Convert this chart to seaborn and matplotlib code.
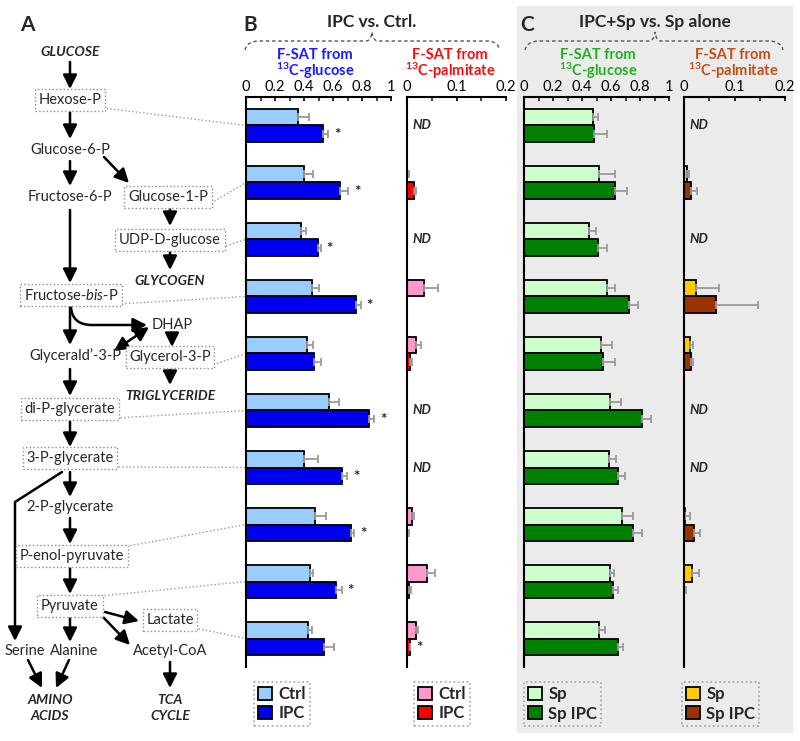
import numpy as np
import pandas as pd
import matplotlib
matplotlib.use("Agg")
import matplotlib.pyplot as plt
import seaborn as sns
from matplotlib.patches import Rectangle, FancyArrowPatch, Patch, PathPatch, ArrowStyle
from matplotlib.path import Path

sns.set_style("white")
plt.rcParams['font.family'] = ['Lato', 'DejaVu Sans']
plt.rcParams['mathtext.fontset'] = 'custom'
plt.rcParams['mathtext.rm'] = 'Lato'
plt.rcParams['mathtext.it'] = 'Lato:italic'
plt.rcParams['mathtext.bf'] = 'Lato:bold'

# ---------------- data ----------------
metabolites = ["Hexose-P", "Glucose-1-P", "UDP-D-glucose", "Fructose-bis-P", "Glycerol-3-P",
               "di-P-glycerate", "3-P-glycerate", "P-enol-pyruvate", "Pyruvate", "Lactate"]

# Panel B: IPC vs Ctrl, F-SAT from 13C-glucose
b_glc_ctrl = [0.356, 0.400, 0.377, 0.455, 0.418, 0.570, 0.400, 0.478, 0.439, 0.425]
b_glc_ctrl_err = [0.076, 0.064, 0.037, 0.050, 0.046, 0.074, 0.099, 0.074, 0.021, 0.028]
b_glc_ipc = [0.533, 0.648, 0.497, 0.759, 0.471, 0.848, 0.664, 0.724, 0.618, 0.540]
b_glc_ipc_err = [0.034, 0.058, 0.018, 0.032, 0.044, 0.037, 0.035, 0.023, 0.044, 0.065]
b_glc_star = [1, 1, 1, 1, 0, 1, 1, 1, 1, 0]

# Panel B: F-SAT from 13C-palmitate (None = ND)
b_pal_ctrl = [None, 0.001, None, 0.035, 0.019, None, None, 0.010, 0.040, 0.019]
b_pal_ctrl_err = [None, 0.003, None, 0.027, 0.009, None, None, 0.005, 0.017, 0.003]
b_pal_ipc = [None, 0.015, None, 0.0, 0.007, None, None, 0.001, 0.004, 0.006]
b_pal_ipc_err = [None, 0.003, None, 0.0, 0.004, None, None, 0.004, 0.004, 0.001]
b_pal_star = [0, 0, 0, 0, 0, 0, 0, 0, 0, 1]

# Panel C: IPC+Sp vs Sp alone, F-SAT from 13C-glucose
c_glc_sp = [0.479, 0.520, 0.445, 0.569, 0.534, 0.596, 0.589, 0.674, 0.596, 0.520]
c_glc_sp_err = [0.028, 0.110, 0.053, 0.060, 0.071, 0.072, 0.048, 0.076, 0.025, 0.039]
c_glc_ipc = [0.484, 0.629, 0.507, 0.727, 0.544, 0.812, 0.651, 0.750, 0.612, 0.645]
c_glc_ipc_err = [0.085, 0.084, 0.066, 0.062, 0.085, 0.062, 0.046, 0.064, 0.033, 0.039]
c_glc_star = [0] * 10

# Panel C: F-SAT from 13C-palmitate
c_pal_sp = [None, 0.005, None, 0.024, 0.011, None, None, 0.001, 0.016, 0.0]
c_pal_sp_err = [None, 0.004, None, 0.045, 0.007, None, None, 0.011, 0.013, 0.0]
c_pal_ipc = [None, 0.013, None, 0.064, 0.014, None, None, 0.020, 0.0, 0.0]
c_pal_ipc_err = [None, 0.013, None, 0.083, 0.004, None, None, 0.011, 0.003, 0.0]
c_pal_star = [0] * 10

W, H = 800, 741
fig = plt.figure(figsize=(8, 7.41), dpi=100)

# overlay axes in pixel coordinates (pathway diagram, titles)
ax0 = fig.add_axes([0, 0, 1, 1])
ax0.set_xlim(0, W)
ax0.set_ylim(H, 0)
ax0.axis('off')
ax0.patch.set_alpha(0)

# grey background of panel C
ax0.add_patch(Rectangle((517, 6), 276, 727, facecolor='#ebebeb', edgecolor='none', zorder=0))

def axes_px(left, right, top=97, bottom=667):
    return fig.add_axes([left / W, 1 - bottom / H, (right - left) / W, (bottom - top) / H])

axBg = axes_px(246, 391)
axBp = axes_px(407, 506)
axCg = axes_px(524, 669)
axCp = axes_px(684, 785)

ERR_COLOR = '#9a9a9a'

def panel(ax, v1, e1, v2, e2, labels, colors, xmax, major, minor, stars, legend_xy):
    nd = [a is None for a in v1]
    val1 = [0.0 if a is None else a for a in v1]
    val2 = [0.0 if a is None else a for a in v2]
    err1 = [0.0 if a is None else a for a in e1]
    err2 = [0.0 if a is None else a for a in e2]
    df = pd.DataFrame({
        'metabolite': metabolites * 2,
        'group': [labels[0]] * len(metabolites) + [labels[1]] * len(metabolites),
        'value': val1 + val2,
    })
    sns.barplot(data=df, y='metabolite', x='value', hue='group', order=metabolites,
                hue_order=labels, palette=colors, orient='h', width=0.58,
                edgecolor='black', linewidth=1.3, errorbar=None, saturation=1,
                legend=False, ax=ax)
    vals = [val1, val2]
    errs = [err1, err2]
    for bar in ax.patches:
        yc = bar.get_y() + bar.get_height() / 2
        i = int(round(yc))
        if i < 0 or i >= len(metabolites):
            continue
        k = 0 if yc < i else 1
        if nd[i]:
            continue
        v, e = vals[k][i], errs[k][i]
        if e > 0:
            ax.errorbar(v, yc, xerr=[[0], [e]], fmt='none', ecolor=ERR_COLOR,
                        elinewidth=1.3, capsize=3, capthick=1.3, zorder=1)
        if k == 1 and stars[i]:
            ax.annotate('*', xy=(v + e, yc), xytext=(4, -1), textcoords='offset points',
                        ha='left', va='center', fontsize=11, fontweight='bold')
    for i, flag in enumerate(nd):
        if flag:
            ax.annotate('ND', xy=(0, i), xytext=(4, 0), textcoords='offset points',
                        ha='left', va='center', fontsize=9.5, fontweight='bold',
                        fontstyle='italic')
    ax.set_xlim(0, xmax)
    ax.set_ylim(len(metabolites) - 0.5, -0.5)
    ax.set_yticks([])
    ax.set_xlabel('')
    ax.set_ylabel('')
    ax.xaxis.tick_top()
    ax.set_xticks(major)
    ax.set_xticklabels([f"{t:g}" for t in major])
    ax.set_xticks(minor, minor=True)
    ax.tick_params(axis='x', which='major', direction='in', length=3, width=1.2,
                   pad=2, labelsize=10.5, colors='black')
    ax.tick_params(axis='x', which='minor', direction='in', length=3, width=1.2)
    for s in ['right', 'bottom']:
        ax.spines[s].set_visible(False)
    for s in ['top', 'left']:
        ax.spines[s].set_linewidth(1.5)
        ax.spines[s].set_color('black')
    ax.patch.set_alpha(0)
    handles = [Patch(facecolor=colors[0], edgecolor='black', linewidth=1.3, label=labels[0]),
               Patch(facecolor=colors[1], edgecolor='black', linewidth=1.3, label=labels[1])]
    leg = ax.legend(handles=handles, loc='upper left',
                    bbox_to_anchor=(legend_xy[0] / W, 1 - legend_xy[1] / H),
                    bbox_transform=fig.transFigure, frameon=True, fancybox=False,
                    prop={'weight': 'bold', 'size': 12}, handlelength=0.85,
                    handleheight=0.85, handletextpad=0.35, borderpad=0.25,
                    labelspacing=0.2, borderaxespad=0)
    fr = leg.get_frame()
    fr.set_edgecolor('#8c8c8c')
    fr.set_linestyle(':')
    fr.set_linewidth(1.2)
    fr.set_facecolor('none')

panel(axBg, b_glc_ctrl, b_glc_ctrl_err, b_glc_ipc, b_glc_ipc_err, ['Ctrl', 'IPC'],
      ['#99ccff', '#0000f0'], 1.0, [0, 0.2, 0.4, 0.6, 0.8, 1.0],
      [0.1, 0.3, 0.5, 0.7, 0.9], b_glc_star, (254, 682))
panel(axBp, b_pal_ctrl, b_pal_ctrl_err, b_pal_ipc, b_pal_ipc_err, ['Ctrl', 'IPC'],
      ['#ff99cc', '#ff0000'], 0.2, [0, 0.1, 0.2], [0.05, 0.15], b_pal_star, (414, 682))
panel(axCg, c_glc_sp, c_glc_sp_err, c_glc_ipc, c_glc_ipc_err, ['Sp', 'Sp IPC'],
      ['#ccffcc', '#008000'], 1.0, [0, 0.2, 0.4, 0.6, 0.8, 1.0],
      [0.1, 0.3, 0.5, 0.7, 0.9], c_glc_star, (524, 682))
panel(axCp, c_pal_sp, c_pal_sp_err, c_pal_ipc, c_pal_ipc_err, ['Sp', 'Sp IPC'],
      ['#ffcc00', '#993300'], 0.2, [0, 0.1, 0.2], [0.05, 0.15], c_pal_star, (682, 682))

# ---------------- titles ----------------
def T(x, y, s, **kw):
    kw.setdefault('ha', 'center')
    kw.setdefault('va', 'center')
    kw.setdefault('fontsize', 10)
    return ax0.text(x, y, s, **kw)

T(27, 25, 'A', fontsize=15, fontweight='bold')
T(250, 25, 'B', fontsize=15, fontweight='bold')
T(527, 25, 'C', fontsize=15, fontweight='bold')
T(372, 22, 'IPC vs. Ctrl.', fontsize=12.5, fontweight='bold')
T(655, 22, 'IPC+Sp vs. Sp alone', fontsize=12.5, fontweight='bold')

def sub(x, color, kind):
    T(x, 55, 'F-SAT from', fontsize=10.5, fontweight='bold', color=color)
    T(x, 71, r'$\mathbf{^{13}}$C-' + kind, fontsize=10.5, fontweight='bold', color=color)

sub(315, '#1a1aff', 'glucose')
sub(450, '#ee1111', 'palmitate')
sub(598, '#22b022', 'glucose')
sub(733, '#c0501a', 'palmitate')

def brace(x0, x1, xm):
    verts = [(x0, 50), (x0 + 2, 41), (x0 + 14, 41), (xm - 6, 41), (xm - 1, 41), (xm, 32),
             (xm + 1, 41), (xm + 6, 41), (x1 - 14, 41), (x1 - 2, 41), (x1, 50)]
    codes = [Path.MOVETO, Path.CURVE3, Path.CURVE3, Path.LINETO, Path.CURVE3, Path.CURVE3,
             Path.CURVE3, Path.CURVE3, Path.LINETO, Path.CURVE3, Path.CURVE3]
    ax0.add_patch(PathPatch(Path(verts, codes), fill=False, edgecolor='#555555', lw=1.0,
                            linestyle=(0, (2.5, 2))))

brace(245, 500, 372)
brace(525, 783, 655)

# ---------------- panel A: pathway ----------------
BOX = dict(boxstyle='square,pad=0.25', facecolor='white', edgecolor='#8c8c8c',
           linestyle=':', linewidth=1.0)

def box(x, y, s):
    T(x, y, s, bbox=BOX, fontsize=10.5)

def plain(x, y, s):
    T(x, y, s, fontsize=10.5)

def bold(x, y, s):
    T(x, y, s, fontsize=10, fontweight='bold', fontstyle='italic')

AS = ArrowStyle('-|>', head_length=0.6, head_width=0.3)
AS2 = ArrowStyle('<|-|>', head_length=0.6, head_width=0.3)

def arrow(p0, p1, style=AS):
    ax0.add_patch(FancyArrowPatch(p0, p1, arrowstyle=style, mutation_scale=14,
                                  color='black', lw=1.8, shrinkA=0, shrinkB=0))

def arrow_path(verts, codes):
    ax0.add_patch(FancyArrowPatch(path=Path(verts, codes), arrowstyle=AS, mutation_scale=14,
                                  color='black', lw=1.8, shrinkA=0, shrinkB=0))

bold(70, 52, 'GLUCOSE')
arrow((70, 62), (70, 89))
box(70, 100, 'Hexose-P')
arrow((70, 112), (70, 139))
plain(70, 150, 'Glucose-6-P')
arrow((70, 161), (70, 186))
plain(70, 197, 'Fructose-6-P')
arrow((104, 157), (129, 183))
box(168, 197, 'Glucose-1-P')
arrow((170, 208), (170, 226))
box(170, 240, 'UDP-D-glucose')
arrow((170, 252), (170, 270))
bold(170, 281, 'GLYCOGEN')
arrow((70, 210), (70, 283))
box(71, 295, r'Fructose-$\it{bis}$-P')
arrow((70, 307), (70, 345))
arrow_path([(71, 307), (72, 325), (92, 325), (147, 325)],
           [Path.MOVETO, Path.CURVE3, Path.CURVE3, Path.LINETO])
plain(172, 325, 'DHAP')
arrow((114, 351), (149, 327), AS2)
plain(75, 356, 'Glycerald\u2019-3-P')
arrow((172, 335), (172, 347))
box(170, 357, 'Glycerol-3-P')
arrow((170, 370), (170, 385))
bold(170, 396, 'TRIGLYCERIDE')
arrow((70, 369), (70, 396))
box(70, 409, 'di-P-glycerate')
arrow((70, 421), (70, 447))
box(70, 458, '3-P-glycerate')
arrow((70, 472), (70, 497))
plain(70, 507, '2-P-glycerate')
arrow((70, 518), (70, 544))
box(72, 556, 'P-enol-pyruvate')
arrow((70, 568), (70, 594))
box(70, 606, 'Pyruvate')
arrow_path([(62, 472), (15, 502), (15, 641)], [Path.MOVETO, Path.LINETO, Path.LINETO])
plain(25, 651, 'Serine')
arrow((70, 618), (70, 642))
plain(74, 651, 'Alanine')
arrow((105, 612), (139, 621))
box(170, 620, 'Lactate')
arrow((103, 617), (130, 645))
plain(170, 651, 'Acetyl-CoA')
arrow((28, 660), (42, 688))
arrow((69, 660), (56, 688))
bold(50, 700, 'AMINO')
bold(50, 716, 'ACIDS')
arrow((170, 662), (170, 688))
bold(170, 700, 'TCA')
bold(170, 716, 'CYCLE')

# dotted connectors from boxed metabolites to bar groups
starts = [(103, 108), (208, 205), (219, 248), (118, 304), (210, 366),
          (117, 418), (115, 467), (123, 547), (101, 596), (195, 628)]
to_px = ax0.transData.inverted()
for i, (sx, sy) in enumerate(starts):
    ex, ey = to_px.transform(axBg.transData.transform((0, i)))
    ax0.plot([sx, ex], [sy, ey], ls=':', color='#9a9a9a', lw=1.0, zorder=0.5)

fig.savefig('out.png', dpi=100)
